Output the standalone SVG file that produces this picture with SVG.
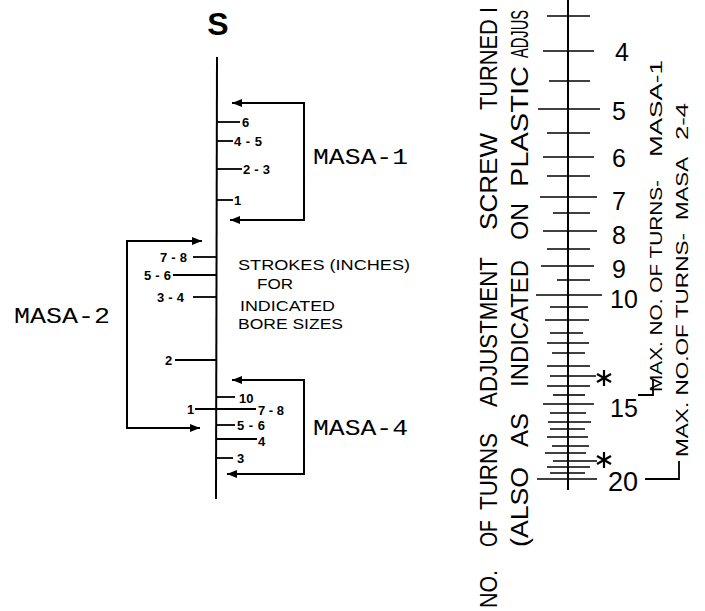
<svg xmlns="http://www.w3.org/2000/svg" width="705" height="611" viewBox="0 0 705 611">
<style>
.ln{stroke:#000;stroke-width:2;fill:none}
.tk{stroke:#000;stroke-width:1.8;fill:none}
.st{stroke:#000;stroke-width:1.6;fill:none}
.lbl{font-family:"Liberation Sans",Arial,sans-serif;font-weight:bold;font-size:13px;fill:#000}
.masa{font-family:"Liberation Mono","Courier New",monospace;font-size:22px;fill:#000}
.note{font-family:"Liberation Sans",Arial,sans-serif;font-size:15px;fill:#000}
.num{font-family:"Liberation Sans",Arial,sans-serif;font-size:25px;fill:#000}
.vt{font-family:"Liberation Sans",Arial,sans-serif;font-size:23px;fill:#000}
.vs{font-family:"Liberation Sans",Arial,sans-serif;font-size:17px;fill:#000}
.ttl{font-family:"Liberation Sans",Arial,sans-serif;font-weight:bold;font-size:32px;fill:#000}
</style>
<defs>
<marker id="ah" markerUnits="userSpaceOnUse" markerWidth="10" markerHeight="8" refX="10" refY="4" orient="auto-start-reverse">
<path d="M0,0 L10,4 L0,8 z" fill="#000"/>
</marker>
<g id="star" class="tk" style="stroke-width:2.2">
<line x1="0" y1="-8" x2="0" y2="8"/>
<line x1="-7" y1="-4" x2="7" y2="4"/>
<line x1="-7" y1="4" x2="7" y2="-4"/>
</g>
</defs>

<g id="title"><text class="ttl" x="218" y="35" text-anchor="middle">S</text></g>

<g id="connectors">
<line class="ln" x1="217" y1="57" x2="216" y2="499"/>
<path class="ln" d="M232,103 H304 V220 H230" marker-start="url(#ah)" marker-end="url(#ah)"/>
<path class="ln" d="M202,241 H127 V428 H200" marker-start="url(#ah)" marker-end="url(#ah)"/>
<path class="ln" d="M232,380 H304 V474 H227" marker-start="url(#ah)" marker-end="url(#ah)"/>
<g class="tk">
<line x1="217" y1="122" x2="240" y2="122"/>
<line x1="217" y1="141" x2="233" y2="141"/>
<line x1="217" y1="169" x2="242" y2="169"/>
<line x1="217" y1="200" x2="233" y2="200"/>
<line x1="193" y1="257" x2="217" y2="257"/>
<line x1="173" y1="275" x2="217" y2="275"/>
<line x1="193" y1="297" x2="217" y2="297"/>
<line x1="175" y1="360" x2="216" y2="360"/>
<line x1="217" y1="397" x2="235" y2="397"/>
<line x1="195" y1="409" x2="256" y2="409"/>
<line x1="217" y1="425" x2="235" y2="425"/>
<line x1="217" y1="439" x2="257" y2="439"/>
<line x1="217" y1="458" x2="233" y2="458"/>
</g>
</g>

<g id="masa1">
<text class="masa" x="313" y="164" textLength="95" lengthAdjust="spacingAndGlyphs">MASA-1</text>
<text class="lbl" x="242" y="127">6</text>
<text class="lbl" x="234" y="146" textLength="28" lengthAdjust="spacing">4-5</text>
<text class="lbl" x="243" y="174" textLength="27" lengthAdjust="spacing">2-3</text>
<text class="lbl" x="234" y="205">1</text>
</g>

<g id="masa2">
<text class="masa" x="14" y="323" textLength="96" lengthAdjust="spacingAndGlyphs">MASA-2</text>
<text class="lbl" x="160" y="262" textLength="27" lengthAdjust="spacing">7-8</text>
<text class="lbl" x="144" y="280" textLength="27" lengthAdjust="spacing">5-6</text>
<text class="lbl" x="157" y="302" textLength="27" lengthAdjust="spacing">3-4</text>
<text class="lbl" x="165" y="365">2</text>
<text class="lbl" x="187" y="414">1</text>
</g>

<g id="masa4">
<text class="masa" x="313" y="435" textLength="95" lengthAdjust="spacingAndGlyphs">MASA-4</text>
<text class="lbl" x="239" y="403">10</text>
<text class="lbl" x="258" y="415" textLength="26" lengthAdjust="spacing">7-8</text>
<text class="lbl" x="237" y="430" textLength="28" lengthAdjust="spacing">5-6</text>
<text class="lbl" x="258" y="446">4</text>
<text class="lbl" x="237" y="463">3</text>
</g>

<g id="strokes-note">
<text class="note" x="238" y="270" textLength="172" lengthAdjust="spacingAndGlyphs">STROKES (INCHES)</text>
<text class="note" x="257" y="289" textLength="36" lengthAdjust="spacingAndGlyphs">FOR</text>
<text class="note" x="240" y="311" textLength="95" lengthAdjust="spacingAndGlyphs">INDICATED</text>
<text class="note" x="238" y="329" textLength="105" lengthAdjust="spacingAndGlyphs">BORE SIZES</text>
</g>

<g id="axis-title">
<text class="vt" transform="translate(497,608) rotate(-90)" textLength="38" lengthAdjust="spacingAndGlyphs">NO.</text>
<text class="vt" transform="translate(497,547) rotate(-90)" textLength="27" lengthAdjust="spacingAndGlyphs">OF</text>
<text class="vt" transform="translate(497,510) rotate(-90)" textLength="77" lengthAdjust="spacingAndGlyphs">TURNS</text>
<text class="vt" transform="translate(497,407) rotate(-90)" textLength="150" lengthAdjust="spacingAndGlyphs">ADJUSTMENT</text>
<text class="vt" transform="translate(497,230) rotate(-90)" textLength="97" lengthAdjust="spacingAndGlyphs">SCREW</text>
<text class="vt" transform="translate(497,110) rotate(-90)" textLength="103" lengthAdjust="spacingAndGlyphs">TURNED I</text>
<text class="vt" transform="translate(528,547) rotate(-90)" textLength="80" lengthAdjust="spacingAndGlyphs">(ALSO</text>
<text class="vt" transform="translate(528,447) rotate(-90)" textLength="34" lengthAdjust="spacingAndGlyphs">AS</text>
<text class="vt" transform="translate(528,387) rotate(-90)" textLength="127" lengthAdjust="spacingAndGlyphs">INDICATED</text>
<text class="vt" transform="translate(528,240) rotate(-90)" textLength="37" lengthAdjust="spacingAndGlyphs">ON</text>
<text class="vt" transform="translate(528,187) rotate(-90)" textLength="121" lengthAdjust="spacingAndGlyphs">PLASTIC</text>
<text class="vt" transform="translate(528,58) rotate(-90)" textLength="48" lengthAdjust="spacingAndGlyphs">ADJUS</text>
</g>

<g id="scale">
<line class="ln" x1="568" y1="0" x2="568" y2="490"/>
<g class="st">
<line x1="547" y1="16" x2="590" y2="16"/>
<line x1="543" y1="51" x2="594" y2="51"/>
<line x1="549" y1="81" x2="590" y2="81"/>
<line x1="538" y1="109" x2="600" y2="109"/>
<line x1="547" y1="133" x2="590" y2="133"/>
<line x1="543" y1="157" x2="594" y2="157"/>
<line x1="547" y1="176" x2="590" y2="176"/>
<line x1="540" y1="197" x2="597" y2="197"/>
<line x1="553" y1="213" x2="590" y2="213"/>
<line x1="543" y1="231" x2="597" y2="231"/>
<line x1="547" y1="249" x2="590" y2="249"/>
<line x1="541" y1="266" x2="594" y2="266"/>
<line x1="557" y1="280" x2="590" y2="280"/>
<line x1="536" y1="295" x2="602" y2="295"/>
<line x1="550" y1="307" x2="588" y2="307"/>
<line x1="545" y1="320" x2="589" y2="320"/>
<line x1="550" y1="333" x2="583" y2="333"/>
<line x1="547" y1="343" x2="589" y2="343"/>
<line x1="552" y1="353" x2="585" y2="353"/>
<line x1="547" y1="366" x2="590" y2="366"/>
<line x1="550" y1="376" x2="596" y2="376"/>
<line x1="547" y1="386" x2="590" y2="386"/>
<line x1="553" y1="395" x2="585" y2="395"/>
<line x1="543" y1="404" x2="594" y2="404"/>
<line x1="550" y1="413" x2="586" y2="413"/>
<line x1="548" y1="422" x2="591" y2="422"/>
<line x1="550" y1="429" x2="585" y2="429"/>
<line x1="547" y1="437" x2="588" y2="437"/>
<line x1="552" y1="446" x2="589" y2="446"/>
<line x1="545" y1="453" x2="586" y2="453"/>
<line x1="553" y1="461" x2="597" y2="461"/>
<line x1="547" y1="467" x2="590" y2="467"/>
<line x1="550" y1="473" x2="585" y2="473"/>
<line x1="537" y1="479" x2="597" y2="479"/>
</g>
<use href="#star" x="604" y="378"/>
<use href="#star" x="604" y="460"/>
<text class="num" x="615" y="61">4</text>
<text class="num" x="612" y="120">5</text>
<text class="num" x="612" y="167">6</text>
<text class="num" x="612" y="210">7</text>
<text class="num" x="612" y="244">8</text>
<text class="num" x="612" y="278">9</text>
<text class="num" x="610" y="308">10</text>
<text class="num" x="610" y="417">15</text>
<text class="num" x="608" y="491" style="font-size:27px">20</text>
</g>

<g id="max-notes">
<path class="tk" d="M638,395 H653 V380"/>
<path class="tk" d="M645,479 H679 V461"/>
<text class="vs" transform="translate(662,392) rotate(-90)" textLength="212" lengthAdjust="spacingAndGlyphs">MAX. NO. OF TURNS-</text>
<text class="vs" transform="translate(662,157) rotate(-90)" textLength="97" lengthAdjust="spacingAndGlyphs">MASA-1</text>
<text class="vs" transform="translate(688,457) rotate(-90)" textLength="224" lengthAdjust="spacingAndGlyphs">MAX. NO.OF TURNS-</text>
<text class="vs" transform="translate(688,220) rotate(-90)" textLength="63" lengthAdjust="spacingAndGlyphs">MASA</text>
<text class="vs" transform="translate(688,140) rotate(-90)" textLength="37" lengthAdjust="spacingAndGlyphs">2-4</text>
</g>
</svg>
